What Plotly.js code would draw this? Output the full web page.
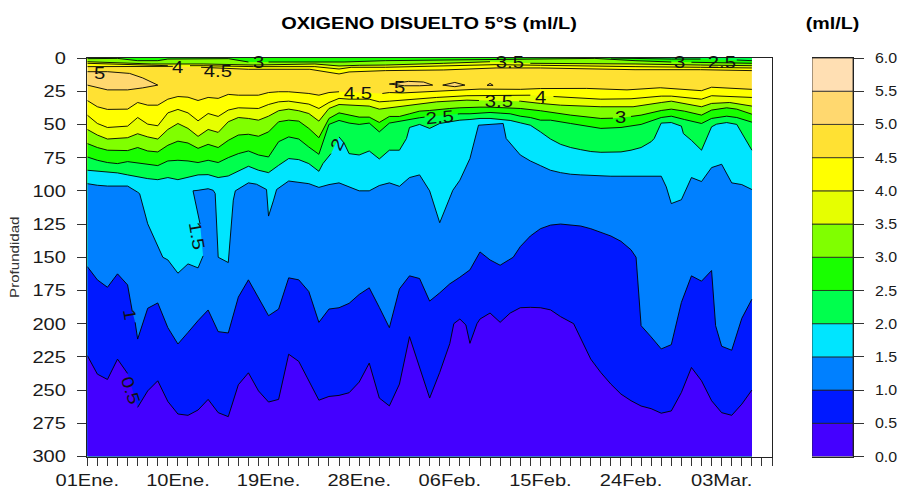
<!DOCTYPE html>
<html><head><meta charset="utf-8">
<script src="https://cdn.plot.ly/plotly-3.0.1.min.js"></script>
<style>html,body{margin:0;padding:0;background:#fff}#c{width:898px;height:488px}</style>
</head><body><div id="c"></div>
<script>
// Isolines: day index (one tick per day) and depth (m). null = gap left for a contour label.
const iso05Days=[0,1,2,3,4,null,5,6,7,8,9,10,11,12,13,14,15,16,17,18,19,20,21,22,23,24,25,26,27,28,29,30,31,32,33,34,35,36,36.4,37,37.6,38,38.7,39,40,41,42,43,44,45,46,47,48.3,49.1,50,51,52,53,54,55,56,57,58,59,60,61,62,63,64,65,66];
const iso05Depth=[224,238,242,226.7,237.5,null,263,250.6,243,258.6,268,269,265,257,267,270,246,237,250.6,259,257,223,228.4,243,257.6,254.8,254,252,244,229.7,256,261.9,245.5,209.8,233,256,236.7,215,200,196.5,201,214.8,200,196.5,192,199,192,188,187.7,188,189.6,194.7,200,212.8,226.7,236.8,245.5,253,258,262,264,267.4,265.7,251.8,233,243,258,267,269,260.6,250];
const iso10Days=[0,1,2,3,4,4.45,null,4.75,5,6,7,8,9,10,11,12,13,14,15,16,17,18,19,20,21,22,23,24,25,26,27,28,29,30,31,32,33,34,35,36,37,38,39,40,41,42.3,43,44,45,46,47,48,49,50,51,52,53,54,54.5,54.8,55,56,57,58,59,60,61,62,62.4,63,64,65,66];
const iso10Depth=[157,167,172.6,162.5,170.8,190,null,199,211.6,188.4,184.4,203,215.3,206.6,197.7,189.7,206,207,180,167,180,194,189,165.5,167,175.8,199,189,188,184.7,178,173,187.7,203,173.8,164,166,183,176.8,170,165,159.5,146,152,156,150,142,134,128.5,125.8,125,125.5,126.5,128.5,131,134,138,144.4,150,180,201.5,210,219,215.8,184,164,168,160,201.5,217,220,196,181.6];
const iso15Days=[0,1,2,3,4,5,5.2,6,7,7.5,8,9,10,11,11.5,null,11.2,10.5,11,12,12.5,12.7,13,14,14.5,14.7,16,16.8,17.8,18,18.5,18.8,20,21,22,23,24,25,26,27,28,29,30,31,32,33,34,35,36.3,37,38,38.85,41.3,41.6,43,44,45,46,47,48,49,50,51,52,53,54,55,56,57,57.5,58,59,59.4,60,61,62,63,64,65,66];
const iso15Depth=[94.6,95.8,96.4,96.4,96.4,101,102.2,124.8,141,150,152,162,155,158,149,null,125,100,99.6,98.4,99.6,102,150,154,107,100,94,95,99,119,107,99,92.6,93.8,94.6,97.4,95.3,94,97,100,100,96,94,96.6,90,88,100,124,99.6,92,75.7,50.6,49.3,60.6,73,77.5,81,84.5,86.3,87.5,88,88.5,89,89,89,89,89,89,89,97,109.6,106.7,99.6,90,93,82.5,80,94,95.3,99];
const iso20Days=[0,1,2,3,4,5,6,7,8,9,10,11,12,13,14,15,16,17,18,19,20,21,22,23,23.4,24.2,null,25,25.5,26,27,28,29,30,31,31.7,32,33,34,35,36,37,38,39,40,41,42,43,44,45,46,47,48,49,50,51,52,53,54,55,56,56.3,56.9,57,58,59,59.2,60,61,62,62.5,63.5,64.5,66];
const iso20Depth=[84.5,85,86,86.5,88,89.6,90.8,91.6,90,91.6,89.6,88,87.8,90,88.8,85,81.5,84.5,86.3,80.8,75.7,76.5,79.5,85.3,79.5,72,null,59.4,64,72,73,70,76,69.4,69.4,60.6,52.3,50,53,49.3,48,46.8,46.3,45.5,45.5,46.3,47,48.8,50.6,55.6,61,65,67.4,69,70.4,71,71,70.7,69.4,67.4,63,60.6,50.6,49,48.6,51.3,56.9,62,69.4,51.8,49.8,48.6,50,69.4];
const iso25Days=[0,1,2,3,4,5,6,7,8,9,10,11,12,13,14,15,16,17,18,19,20,21,22,23,24,25,26,27,28,29,30,31,32,33,33.5,null,36.8,37,38,39,40,41,42,43,44,45,46,48,51,53,55,57,58,59.3,61,62,63.5,64.5,66];
const iso25Depth=[74.5,77,78.7,79.5,78,79,80,81,77.5,77,77.5,78.7,77,78.7,75,72,70,73,74.5,63,59.4,61,67,72.5,50,47,49,50,49,55.6,49,47.5,46,45,44.5,null,42.2,42,42,41.5,41,41.5,42,43.8,44.8,46.8,46.8,49.3,53,52.3,50,44.8,43.8,46.3,49.3,45.5,43.8,44.8,48.3];
const iso30Days=[0,1,2,3,4,5,6,7,8,9,10,11,12,13,14,15,16,17,18,19,20,21,22,23,24,25,26,27,28,29,30,31,32,33,34,35,36,37,38,39,40,41,42,43,45,48,51,52.2,null,54,55,57,58,59.3,61,62,63.5,64.5,66];
const iso30Depth=[64.4,67.4,69.4,69.7,69.7,67.4,70,70.7,65.7,62.6,64,68,65,67.4,62,58,57.4,58.9,55.6,48,46.8,47.5,53,60,45.5,41.3,43,44.5,44.5,48.5,44,44,42,40,39.5,38.5,38,37.5,37,37,37,37.5,38,38,39.7,43,45.5,45.3,null,44,43,39.5,38.5,40,43,39.2,37.5,38.5,42.3];
const iso35Days=[0,1,2,3,4,5,6,7,8,9,10,11,12,13,14,15,16,17,18,19,20,21,22,23,24,25,26,27,28,29,30,32.4,34.7,37.7,38.9,null,42.9,43,45,47,51,54.2,57,58,61,62,63.8,66];
const iso35Depth=[53.8,58,61,60.6,60,57,59.4,61,53.8,49.3,53,59,53.8,56,48,44.8,45.5,46.8,43.8,39.7,38.5,39.7,41.8,47.5,38,35,35.5,36,36.2,38.5,37.5,35.5,33,31.7,32,null,32.5,32.5,34.2,35.5,36.7,36.7,33.5,32.5,36.7,34.2,33.5,36.2];
const iso40Days=[0,1,2,3,4,5,6,7,8,9,10,11,12,13,14,15,16,17,18,19,20,21,22,23,24,25,26,28,29,30,32.4,34.7,37.7,40.7,44,null,46.3,51,54,57,58,61,62,63.5,66];
const iso40Depth=[43,49.3,52.3,51.8,51.3,44.8,49.8,51,41.3,38.7,41.3,47.3,41.8,44,39.2,37.5,37.5,38,35,33,32.5,33.5,34.7,38,33.5,30.4,31,31,33,32.5,31,29.7,28.4,28,28,null,29,31,30.7,28.7,28.7,31,28.4,28.7,29.7];
const iso45Days=[0,1,2,4,5,6,7,8,9,10,11,12,13,14,15,16,17,18,19,20,21,22,23,24,25,null,29.3,30,31.3,34,35.7,39,43,45,49.6,53.6,56.9,61,62,66];
const iso45Depth=[32,36.7,38.7,38.5,33.5,35.5,35.5,31,29,29.5,32,29.7,30.4,27.4,28,28,28,26,25.4,25.4,26,26.7,28,26,25.4,null,26.7,26,26.3,25.4,24.7,23.4,23.6,23,22.9,24,22.4,24.6,22,23.6];
// Surface layer: values fall towards the sea surface
const top45Days=[0,3,8.5,null,11.3,14.8,16,22.1,23,25,26,29.6,35.4,40.6,45,50.4,54.4,60.9,66];
const top45Depth=[6.5,6.3,6.3,null,7,8,8.5,8.5,9.5,12,10.5,9.5,9,7.5,7.5,8.3,8.8,8.8,9.5];
const top40Days=[0,6.4,8,null,10.2,11.5,16.5,22.6,25,26.2,29.6,35.4,40.6,45,50.4,54.4,60.9,66];
const top40Depth=[4,5.8,5.8,null,5.8,5.8,6.5,6.5,8.3,7,7,6,5,5.5,6.3,6.5,7,7.5];
const top35Days=[0,6.4,11.5,16.5,22.6,25,27,29.6,35.4,40,null,44,50.4,54.4,60.9,66];
const top35Depth=[2.8,4.5,4.5,5.3,4.5,6,5.5,5.3,4,2.8,null,4,4,4.5,5.3,5.8];
const top30Days=[0,3,5,7,8,14,16,null,18,22,24,25.5,29.6,35.4,40.6,45,50.4,54.4,58,null,60,60.9,66];
const top30Depth=[0.5,0.3,2,2,0.8,0.5,3,null,3,3,2.5,3,2,1.5,1,0.5,0.3,2,3,null,3.2,3.3,4];
const top25Days=[52,54.4,58,60.9,null,64.5,66];
const top25Depth=[0,0.5,0.8,0.8,null,1.5,2];
// Closed pockets above 5 ml/L
const patchADays=[0,2,4.2,5.5,7,5.5,4,2,0];
const patchADepth=[10.3,10.3,11.6,15,20.4,22.5,24,24,20.4];
const patchBDays=[30,31.9,33.4,34.3,33,31.5,30];
const patchBDepth=[19.6,17.6,18.1,20.4,20.9,20.9,19.6];
const patchCDays=[35.3,36.5,37.5,36.5,35.3];
const patchCDepth=[20.4,18.4,20.4,21.6,20.4];
const patchDDays=[39.7,40,40.3,39.7];
const patchDDepth=[20.6,19.1,20.6,20.6];

const dayFirst=0, dayLast=66, depthTop=0, depthBottom=300;
const levels=[0,0.5,1,1.5,2,2.5,3,3.5,4,4.5,5,5.5];
const bandColors=['#4400FF','#0019FF','#0080FF','#00E5FF','#00FF4D','#19FF00','#80FF00','#E6FF00','#FFFF00','#FFE133','#FFD86F','#FFDFB3'];
const dateLabels=['01Ene.','10Ene.','19Ene.','28Ene.','06Feb.','15Feb.','24Feb.','03Mar.'];
const depthTicks=[0,25,50,75,100,125,150,175,200,225,250,275,300];
const contourLabels=[
 ['5',1.2,11.5,0],['4',9,7,0],['4.5',13,10.5,0],['3',17,3.2,0],['3.5',42,3.2,0],['3',58.8,3.2,0],['2.5',63,3.2,0],
 ['4.5',26.9,27,0],['5',31,22.5,0],['3.5',40.9,33,0],['4',45,30,0],['2.5',35,45,-5],['3',53,44.5,0],
 ['2',24.8,65.5,-65],['1.5',10.9,134,80],['1',4.2,193,80],['0.5',4.3,250,72]];

const traces=[];
const solid=(a,b)=>{const x=[],y=[];a.forEach((v,i)=>{if(v!==null){x.push(v);y.push(b[i]);}});return [x,y];};
function region(days,depth,closeDepth,color){
  const [x,y]=solid(days,depth);
  traces.push({x:x.concat([x[x.length-1],x[0]]),y:y.concat([closeDepth,closeDepth]),xaxis:'x',yaxis:'y',type:'scatter',mode:'lines',fill:'toself',fillcolor:color,line:{width:0},hoverinfo:'skip'});
}
function contour(days,depth){
  traces.push({x:days,y:depth,xaxis:'x',yaxis:'y',type:'scatter',mode:'lines',line:{color:'#000',width:0.9},connectgaps:false,hoverinfo:'skip'});
}
function patch(days,depth,color){
  traces.push({x:days,y:depth,xaxis:'x',yaxis:'y',type:'scatter',mode:'lines',fill:'toself',fillcolor:color,line:{color:'#000',width:0.9},hoverinfo:'skip'});
}
// background band 4.5 - 5
traces.push({x:[dayFirst,dayLast,dayLast,dayFirst],y:[depthTop,depthTop,depthBottom,depthBottom],xaxis:'x',yaxis:'y',type:'scatter',mode:'lines',fill:'toself',fillcolor:bandColors[9],line:{width:0},hoverinfo:'skip'});
const bodyLines=[[iso45Days,iso45Depth,8],[iso40Days,iso40Depth,7],[iso35Days,iso35Depth,6],[iso30Days,iso30Depth,5],[iso25Days,iso25Depth,4],[iso20Days,iso20Depth,3],[iso15Days,iso15Depth,2],[iso10Days,iso10Depth,1],[iso05Days,iso05Depth,0]];
bodyLines.forEach(l=>region(l[0],l[1],depthBottom,bandColors[l[2]]));
const topLines=[[top45Days,top45Depth,8],[top40Days,top40Depth,7],[top35Days,top35Depth,6],[top30Days,top30Depth,5],[top25Days,top25Depth,4]];
topLines.forEach(l=>region(l[0],l[1],depthTop,bandColors[l[2]]));
bodyLines.forEach(l=>contour(l[0],l[1]));
topLines.forEach(l=>contour(l[0],l[1]));
patch(patchADays,patchADepth,bandColors[10]);
patch(patchBDays,patchBDepth,bandColors[10]);
patch(patchCDays,patchCDepth,bandColors[10]);
patch(patchDDays,patchDDepth,bandColors[10]);
// colour key
traces.push({type:'bar',xaxis:'x2',yaxis:'y2',x:levels.map(()=>0),y:levels.map(()=>0.5),base:levels,width:1,marker:{color:bandColors,line:{color:'#222',width:0.8}},hoverinfo:'skip'});

const W=898,H=488;
const font='"Liberation Sans", Arial, sans-serif';
const tickPos=[];for(let i=0;i<=68;i++)tickPos.push(i);
const tickText=tickPos.map(i=>(i%9===0&&dateLabels[i/9])?dateLabels[i/9]:'');
const layout={
 width:W,height:H,margin:{l:0,r:0,t:0,b:0,pad:0},showlegend:false,paper_bgcolor:'#fff',plot_bgcolor:'#fff',barmode:'overlay',
 font:{family:font,color:'#1a1a1a'},
 title:{text:'OXIGENO DISUELTO 5°S (ml/L)',x:429/W,xanchor:'center',y:1-23/H,yanchor:'middle',font:{family:font,size:16.5,color:'#000',weight:'bold'}},
 xaxis:{domain:[87.3/W,772/W],range:[0,68],tickmode:'array',tickvals:tickPos,ticktext:tickText,ticks:'outside',ticklen:8,tickwidth:1,tickcolor:'#333',tickangle:0,tickfont:{size:17},showgrid:false,zeroline:false,showline:true,linecolor:'#222',linewidth:1,mirror:true,anchor:'y',automargin:false},
 yaxis:{domain:[1-456.5/H,1-58/H],range:[300,0],tickmode:'array',tickvals:depthTicks,ticks:'outside',ticklen:9,tickwidth:1,tickcolor:'#333',tickfont:{size:17},ticklabelstandoff:8,showgrid:false,zeroline:false,showline:true,linecolor:'#222',linewidth:1,mirror:true,anchor:'x',automargin:false,title:{text:'Profundidad',font:{size:13,color:'#333'},standoff:14}},
 xaxis2:{domain:[812/W,853/W],range:[-0.5,0.5],showticklabels:false,ticks:'',showgrid:false,zeroline:false,showline:true,linecolor:'#222',linewidth:1,mirror:true,anchor:'y2',automargin:false},
 yaxis2:{domain:[1-456.5/H,1-58/H],range:[0,6],side:'right',tickmode:'array',tickvals:levels.concat([6]),tickformat:'.1f',ticks:'outside',ticklen:10,tickwidth:1,tickcolor:'#333',tickfont:{size:14.5},showgrid:false,zeroline:false,showline:true,linecolor:'#222',linewidth:1,anchor:'x2',automargin:false,ticklabelstandoff:8},
 annotations:contourLabels.map(l=>({text:l[0],x:l[1],y:l[2],xref:'x',yref:'y',showarrow:false,textangle:l[3],font:{family:font,size:17,color:'#111'}})).concat([
  {text:'(ml/L)',xref:'paper',yref:'paper',x:832/W,y:1-23/H,xanchor:'center',yanchor:'middle',showarrow:false,font:{family:font,size:16.5,color:'#000',weight:'bold'}}])
};
// The reference's lettering is horizontally stretched: keep it real text, widened with textLength.
function widen(selector,k){document.querySelectorAll(selector).forEach(t=>{const w=t.getComputedTextLength();if(w>0){t.setAttribute('lengthAdjust','spacingAndGlyphs');t.setAttribute('textLength',w*k);}});}
Plotly.newPlot('c',traces,layout,{staticPlot:true,displayModeBar:false}).then(()=>{
  widen('.xtick text',1.18);widen('.ytick text',1.18);widen('.y2tick text',1.1);
  widen('.gtitle',1.21);widen('.ytitle',1.16);widen('.annotation-text',1.19);
});
</script></body></html>
